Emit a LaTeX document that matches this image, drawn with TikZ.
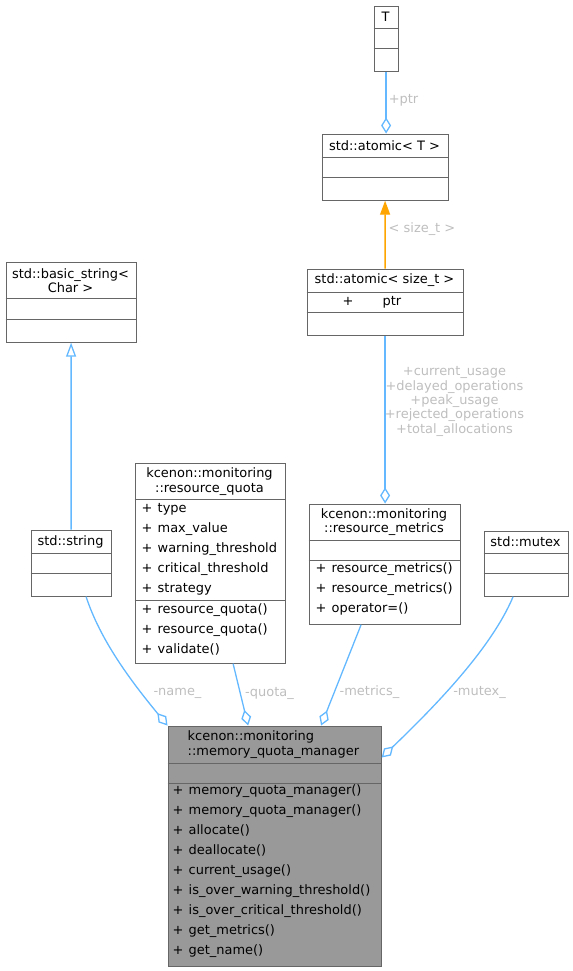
\documentclass[tikz,border=0pt]{standalone}
\usepackage{fontspec}
\setmainfont{DejaVu Sans}
\usepackage{xcolor}
\usetikzlibrary{arrows.meta}

\definecolor{edgeblue}{HTML}{63B8FF}
\definecolor{boxgray}{HTML}{666666}
\definecolor{maingray}{HTML}{999999}
\definecolor{labelgray}{HTML}{BEBEBE}
\definecolor{tmplorange}{HTML}{FFA500}
\newcommand{\pl}[1]{\makebox[16bp][l]{#1}}

\begin{document}
\begin{tikzpicture}[x=1bp,y=-1bp,shift={(0.5,0.5)},
  cls/.style={draw=boxgray, line width=1.2bp, fill=white, anchor=north west},
  sep/.style={draw=boxgray, line width=1.2bp},
  mem/.style={anchor=west, text height=9.5pt, text depth=2.7pt},
  lbl/.style={text=labelgray},
  agg/.style={draw=edgeblue, line width=1.3bp, -{Diamond[open, length=16bp, width=10bp]}},
  inh/.style={draw=edgeblue, line width=1.3bp, -{Triangle[open, length=14bp, width=10bp]}},
  tmpl/.style={draw=tmplorange, line width=1.3bp, -{Triangle[length=14bp, width=10bp]}}]
\tikzstyle{every node}+=[inner sep=0pt, font=\fontsize{13}{14.5}\selectfont]
\useasboundingbox (-0.5,-0.5) rectangle (572.5,970.5);
% T
\node [cls, minimum width=24bp, minimum height=65bp] (t) at (373,5) {};
\draw [sep] (373,28) -- (397,28);
\draw [sep] (373,48) -- (397,48);
\node at (385,16.5) {T};
% std::atomic< T >
\node [cls, minimum width=126bp, minimum height=66bp] (atomicT) at (321,133) {};
\draw [sep] (321,157) -- (447,157);
\draw [sep] (321,177) -- (447,177);
\node at (384,145) {std::atomic< T >};
% std::atomic< size_t >
\node [cls, minimum width=156bp, minimum height=66bp] (atomicS) at (306,268) {};
\draw [sep] (306,292) -- (462,292);
\draw [sep] (306,312) -- (462,312);
\node at (384,280) {std::atomic< size\_t >};
\node [mem] at (342,302) {\makebox[40bp][l]{+}ptr};
% std::basic_string< Char >
\node [cls, minimum width=130bp, minimum height=80bp] (bstring) at (5,261) {};
\draw [sep] (5,298) -- (135,298);
\draw [sep] (5,319) -- (135,319);
\node [align=center] at (70,280) {std::basic\_string<\\Char >};
% std::string
\node [cls, minimum width=80bp, minimum height=66bp] (string) at (30,529) {};
\draw [sep] (30,553) -- (110,553);
\draw [sep] (30,573) -- (110,573);
\node at (70,541) {std::string};
% resource_quota
\node [cls, minimum width=150bp, minimum height=200bp] (quota) at (134,462) {};
\draw [sep] (134,499) -- (284,499);
\draw [sep] (134,600) -- (284,600);
\node [align=center] at (209,481) {kcenon::monitoring\\::resource\_quota};
\node [mem] at (141,509) {\pl{+}type};
\node [mem] at (141,529) {\pl{+}max\_value};
\node [mem] at (141,549) {\pl{+}warning\_threshold};
\node [mem] at (141,569) {\pl{+}critical\_threshold};
\node [mem] at (141,589) {\pl{+}strategy};
\node [mem] at (141,610) {\pl{+}resource\_quota()};
\node [mem] at (141,630) {\pl{+}resource\_quota()};
\node [mem] at (141,650) {\pl{+}validate()};
% resource_metrics
\node [cls, minimum width=151bp, minimum height=120bp] (metrics) at (308,503) {};
\draw [sep] (308,540) -- (459,540);
\draw [sep] (308,560) -- (459,560);
\node [align=center] at (383.5,521.5) {kcenon::monitoring\\::resource\_metrics};
\node [mem] at (315,569) {\pl{+}resource\_metrics()};
\node [mem] at (315,589) {\pl{+}resource\_metrics()};
\node [mem] at (315,609) {\pl{+}operator=()};
% std::mutex
\node [cls, minimum width=84bp, minimum height=65bp] (mutex) at (483,530) {};
\draw [sep] (483,553) -- (567,553);
\draw [sep] (483,573) -- (567,573);
\node at (525,541.5) {std::mutex};
% memory_quota_manager
\node [cls, fill=maingray, minimum width=213bp, minimum height=240bp] (manager) at (167,725) {};
\draw [sep] (167,763) -- (380,763);
\draw [sep] (167,783) -- (380,783);
\node [align=left, anchor=west] at (187,744) {kcenon::monitoring\\::memory\_quota\_manager};
\node [mem] at (172,791) {\pl{+}memory\_quota\_manager()};
\node [mem] at (172,811) {\pl{+}memory\_quota\_manager()};
\node [mem] at (172,831) {\pl{+}allocate()};
\node [mem] at (172,851) {\pl{+}deallocate()};
\node [mem] at (172,871) {\pl{+}current\_usage()};
\node [mem] at (172,891) {\pl{+}is\_over\_warning\_threshold()};
\node [mem] at (172,911) {\pl{+}is\_over\_critical\_threshold()};
\node [mem] at (172,931) {\pl{+}get\_metrics()};
\node [mem] at (172,951) {\pl{+}get\_name()};
% connectors
\draw [agg] (t.south) -- (t.south |- atomicT.north);
\node [lbl] at (403,100) {+ptr};
\draw [tmpl] (atomicS.north) -- (atomicT.south);
\node [lbl] at (421.5,229) {< size\_t >};
\draw [agg] (atomicS.south) -- (atomicS.south |- metrics.north);
\node [lbl, align=center] at (454,401) {+current\_usage\\+delayed\_operations\\+peak\_usage\\+rejected\_operations\\+total\_allocations};
\draw [inh] (string.north) -- (bstring.south);
\draw [agg] ([xshift=15bp]string.south) .. controls (100,640) and (130,680) .. (manager.north west);
\node [lbl] at (177,693) {-name\_};
\draw [agg] ([xshift=23bp]quota.south) -- ([xshift=-26.5bp]manager.north);
\node [lbl] at (269,693) {-quota\_};
\draw [agg] ([xshift=-23.5bp]metrics.south) -- ([xshift=46.5bp]manager.north);
\node [lbl] at (369,692) {-metrics\_};
\draw [agg] ([xshift=-13bp]mutex.south) .. controls (490,650) and (430,710) .. ([yshift=-32bp]manager.north east);
\node [lbl] at (479,692) {-mutex\_};
\end{tikzpicture}
\end{document}
